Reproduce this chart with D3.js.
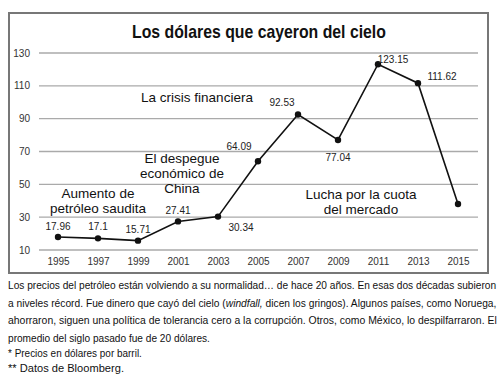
<!DOCTYPE html>
<html>
<head>
<meta charset="utf-8">
<script src="https://cdn.jsdelivr.net/npm/d3@7"></script>
<style>
  body { margin: 0; background: #fff; }
  svg { display: block; font-family: "Liberation Sans", Arial, sans-serif; }
</style>
</head>
<body>
<svg id="chart" width="500" height="381"></svg>
<script>
// Datos del gráfico (precio del petróleo, dólares por barril)
const years = [1995, 1997, 1999, 2001, 2003, 2005, 2007, 2009, 2011, 2013, 2015];
const prices = [17.96, 17.1, 15.71, 27.41, 30.34, 64.09, 92.53, 77.04, 123.15, 111.62, 38];
const valueLabels = ["17.96", "17.1", "15.71", "27.41", "30.34", "64.09", "92.53", "77.04", "123.15", "111.62", ""];
const yTicks = [10, 30, 50, 70, 90, 110, 130];
const xTicks = years;

const title = "Los dólares que cayeron del cielo";
const notes = [
  ["La crisis financiera"],
  ["El despegue", "económico de", "China"],
  ["Aumento de", "petróleo saudita"],
  ["Lucha por la cuota", "del mercado"]
];
// cada línea del texto: trozos [texto, cursiva]
const bodyLines = [
  [["Los precios del petróleo están volviendo a su normalidad… de hace 20 años. En esas dos décadas subieron", false]],
  [["a niveles récord. Fue dinero que cayó del cielo (", false], ["windfall,", true], [" dicen los gringos). Algunos países, como Noruega,", false]],
  [["ahorraron, siguen una política de tolerancia cero a la corrupción. Otros, como México, lo despilfarraron. El", false]],
  [["promedio del siglo pasado fue de 20 dólares.", false]]
];
const footnotes = ["* Precios en dólares por barril.", "** Datos de Bloomberg."];

const svg = d3.select("#chart");

// estrecha un texto horizontalmente hasta el ancho pedido (letra condensada)
function fitWidth(g, x0, y0, width) {
  const w = g.node().getBBox().width;
  g.attr("transform", `translate(${x0},${y0}) scale(${width / w},1)`);
}

// Marco
svg.append("rect")
  .attr("x", 9).attr("y", 13)
  .attr("width", 479).attr("height", 260)
  .attr("fill", "none")
  .attr("stroke", "#777")
  .attr("stroke-width", 2);

const titleG = svg.append("g");
titleG.append("text")
  .attr("font-size", 18)
  .attr("font-weight", "bold")
  .attr("fill", "#111")
  .text(title);
fitWidth(titleG, 132, 38, 254);

// Escalas
const x = d3.scaleLinear().domain([1995, 2015]).range([58, 458]);
const y = d3.scaleLinear().domain([10, 130]).range([250, 53]);

// Rejilla
svg.append("g").selectAll("line")
  .data(yTicks)
  .join("line")
  .attr("x1", 39).attr("x2", 478)
  .attr("y1", d => y(d)).attr("y2", d => y(d))
  .attr("stroke", "#aaa")
  .attr("stroke-width", 1.4);

// Eje Y
svg.append("g").selectAll("text")
  .data(yTicks)
  .join("text")
  .attr("x", 30)
  .attr("y", d => y(d) + 3.5)
  .attr("text-anchor", "end")
  .attr("font-size", 10)
  .attr("fill", "#333")
  .text(d => d);

// Eje X
const xAxis = svg.append("g")
  .attr("transform", "translate(0,250)")
  .call(d3.axisBottom(x).tickValues(xTicks).tickFormat(d3.format("d")).tickSize(0).tickPadding(8));
xAxis.select(".domain").remove();
xAxis.selectAll("text")
  .attr("font-family", "Liberation Sans, Arial, sans-serif")
  .attr("font-size", 10)
  .attr("fill", "#333");

// Línea
const pts = years.map((yr, i) => ({ year: yr, value: prices[i], label: valueLabels[i] }));
svg.append("path")
  .datum(pts)
  .attr("fill", "none")
  .attr("stroke", "#111")
  .attr("stroke-width", 1.6)
  .attr("d", d3.line().x(d => x(d.year)).y(d => y(d.value)));

svg.append("g").selectAll("circle")
  .data(pts)
  .join("circle")
  .attr("cx", d => x(d.year))
  .attr("cy", d => y(d.value))
  .attr("r", 3.2)
  .attr("fill", "#111");

// Etiquetas de valores (desplazamiento a mano, como en el original)
const labelOffsets = [[0, -7], [0, -8], [0, -8], [0, -7], [23, 14], [-19, -11], [-16, -9], [0, 21], [15, -1], [24, -3], [0, 0]];
svg.append("g").selectAll("text")
  .data(pts)
  .join("text")
  .attr("x", (d, i) => x(d.year) + labelOffsets[i][0])
  .attr("y", (d, i) => y(d.value) + labelOffsets[i][1])
  .attr("text-anchor", "middle")
  .attr("font-size", 10)
  .attr("fill", "#222")
  .text(d => d.label);

// Anotaciones
const notePos = [
  { x: 197, y: 102 },
  { x: 182, y: 163 },
  { x: 98, y: 198 },
  { x: 361, y: 199 }
];
notes.forEach((lines, i) => {
  const t = svg.append("text")
    .attr("text-anchor", "middle")
    .attr("font-size", 13.5)
    .attr("fill", "#111");
  lines.forEach((ln, j) => {
    t.append("tspan")
      .attr("x", notePos[i].x)
      .attr("y", notePos[i].y + j * 15)
      .text(ln);
  });
});

// Texto inferior (justificado salvo la última línea)
const lineLens = [489, 489, 489, 202];
bodyLines.forEach((parts, i) => {
  const g = svg.append("g");
  const t = g.append("text")
    .attr("font-size", 11.5)
    .attr("fill", "#111");
  parts.forEach(([s, it]) => {
    t.append("tspan")
      .attr("font-style", it ? "italic" : "normal")
      .text(s);
  });
  fitWidth(g, 8, 289 + i * 17.6, lineLens[i]);
});
const footLens = [134, 116];
footnotes.forEach((f, i) => {
  const g = svg.append("g");
  g.append("text")
    .attr("font-size", 11)
    .attr("fill", "#111")
    .text(f);
  fitWidth(g, 8, 357 + i * 15, footLens[i]);
});
</script>
</body>
</html>
